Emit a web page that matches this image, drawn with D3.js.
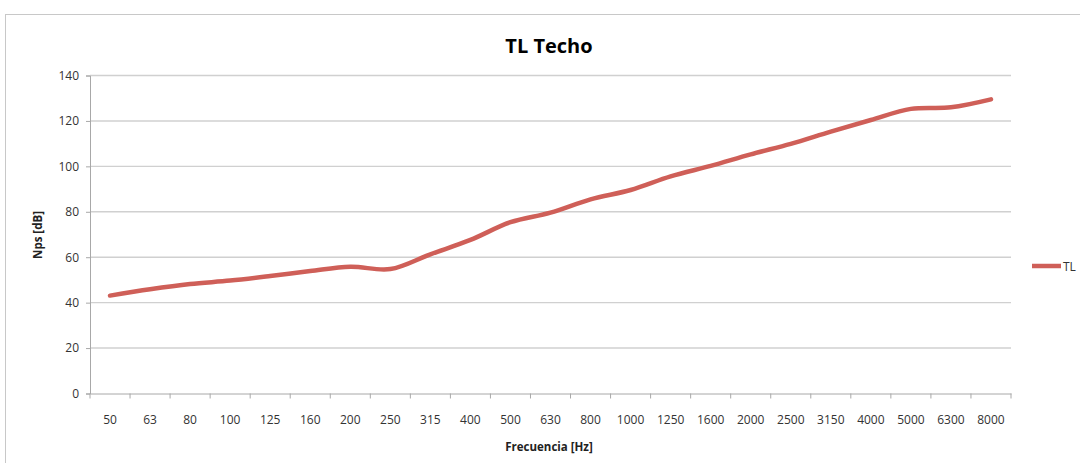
<!DOCTYPE html>
<html>
<head>
<meta charset="utf-8">
<script src="https://cdn.jsdelivr.net/npm/d3@7"></script>
<style>
  html, body { margin: 0; padding: 0; background: #fff; }
  svg { display: block; font-family: Lato, "Open Sans", sans-serif; }
</style>
</head>
<body>
<svg id="chart" width="1080" height="463"></svg>
<script>
// Frequency bands (Hz) and transmission loss of the ceiling
const frequencies = ["50","63","80","100","125","160","200","250","315","400","500","630",
  "800","1000","1250","1600","2000","2500","3150","4000","5000","6300","8000"];
const tlValues = [43.1, 45.9, 48.2, 49.7, 51.7, 53.9, 55.8, 54.8, 61.3, 67.6, 75.4, 79.6,
  85.5, 89.6, 95.6, 100.2, 105.3, 109.9, 115.3, 120.4, 125.3, 126.0, 129.5];
const yTicks = [0, 20, 40, 60, 80, 100, 120, 140];

const svg = d3.select("#chart");
const plot = { left: 90, right: 1011, top: 75.5, bottom: 393.5 };
const lineColor = "#cf5f58";

// Outer chart frame
svg.append("rect")
  .attr("x", 5.5).attr("y", 14.5)
  .attr("width", 1100).attr("height", 500)
  .attr("fill", "#fff").attr("stroke", "#c8c8c8").attr("stroke-width", 1);

const x = d3.scaleBand().domain(frequencies).range([plot.left, plot.right]);
const y = d3.scaleLinear().domain([0, 140]).range([plot.bottom, plot.top]);

// Horizontal gridlines
svg.append("g")
  .selectAll("line")
  .data(yTicks.filter(d => d > 0))
  .join("line")
  .attr("x1", plot.left).attr("x2", plot.right)
  .attr("y1", d => y(d)).attr("y2", d => y(d))
  .attr("stroke", "#d0d0d0").attr("stroke-width", 1.4);

// Y axis
const yAxis = svg.append("g")
  .attr("transform", `translate(${plot.left},0)`)
  .call(d3.axisLeft(y).tickValues(yTicks).tickSize(4).tickPadding(7));
yAxis.select(".domain").attr("stroke", "#a8a8a8");
yAxis.selectAll(".tick line").attr("stroke", "#a8a8a8");
yAxis.selectAll(".tick text")
  .attr("fill", "#333").style("font-size", "12px").style("font-family", "'Open Sans', sans-serif");

// X axis: ticks between categories
const xAxis = svg.append("g")
  .attr("transform", `translate(0,${plot.bottom})`)
  .call(d3.axisBottom(x).tickSize(0).tickPadding(22));
xAxis.select(".domain").attr("stroke", "#a8a8a8");
xAxis.selectAll(".tick text")
  .attr("fill", "#333").style("font-size", "12px").style("font-family", "'Open Sans', sans-serif");
const edges = frequencies.map(f => x(f)).concat([plot.right]);
xAxis.append("g")
  .selectAll("line")
  .data(edges)
  .join("line")
  .attr("x1", d => d).attr("x2", d => d)
  .attr("y1", 0).attr("y2", 5)
  .attr("stroke", "#a8a8a8");

// TL curve
const line = d3.line()
  .x((d, i) => x(frequencies[i]) + x.bandwidth() / 2)
  .y(d => y(d))
  .curve(d3.curveCatmullRom.alpha(0.5));
svg.append("path")
  .datum(tlValues)
  .attr("d", line)
  .attr("fill", "none")
  .attr("stroke", lineColor)
  .attr("stroke-width", 4.5)
  .attr("stroke-linecap", "round")
  .attr("stroke-linejoin", "round");

// Title and axis titles
svg.append("text")
  .attr("x", 549).attr("y", 53)
  .attr("text-anchor", "middle")
  .style("font-size", "20px").style("font-weight", "bold")
  .style("font-family", "'Open Sans', sans-serif")
  .text("TL Techo");

svg.append("text")
  .attr("x", 549).attr("y", 451)
  .attr("text-anchor", "middle")
  .style("font-size", "11.5px").style("font-weight", "bold")
  .style("font-family", "'Open Sans', sans-serif")
  .attr("fill", "#222")
  .text("Frecuencia [Hz]");

svg.append("text")
  .attr("transform", "translate(42,235) rotate(-90)")
  .attr("text-anchor", "middle")
  .style("font-size", "11.5px").style("font-weight", "bold")
  .style("font-family", "'Open Sans', sans-serif")
  .attr("fill", "#222")
  .text("Nps [dB]");

// Legend
const legend = svg.append("g").attr("transform", "translate(1032,266)");
legend.append("line")
  .attr("x1", 0).attr("x2", 29).attr("y1", 0).attr("y2", 0)
  .attr("stroke", lineColor).attr("stroke-width", 4.5);
legend.append("text")
  .attr("x", 31).attr("y", 5)
  .style("font-size", "12px")
  .style("font-family", "'Open Sans', sans-serif")
  .attr("fill", "#333")
  .text("TL");
</script>
</body>
</html>
